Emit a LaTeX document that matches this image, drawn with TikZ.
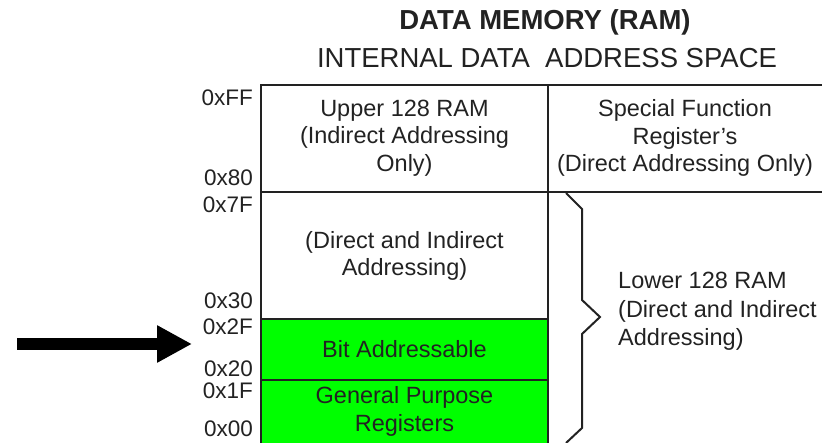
\documentclass[tikz,border=0pt]{standalone}
\usepackage{fontspec}
\setmainfont{Liberation Sans}
\usetikzlibrary{arrows.meta}
\definecolor{ramgreen}{HTML}{00FF00}
\definecolor{ink}{HTML}{222222}
\tikzset{
  cellline/.style={draw=ink, line width=2pt},
  celltxt/.style={text=ink, align=center, inner sep=0pt, font=\fontsize{23.5}{27.5}\selectfont},
  addrtxt/.style={text=ink, anchor=east, inner sep=0pt, font=\fontsize{22.5}{24}\selectfont},
  titletxt/.style={text=ink, inner sep=0pt, font=\fontsize{27.5}{33}\selectfont},
  bigarrow/.style={draw=black, line width=12pt, -{Triangle[length=35pt,width=35pt]}}
}
\begin{document}
\begin{tikzpicture}[x=1pt,y=-1pt]
\useasboundingbox (0,0) rectangle (822,443);
% green fill
\fill[ramgreen] (261,319) rectangle (548,443);
% lines
\draw[cellline] (261,443) -- (261,85) -- (822,85);
\draw[cellline] (548,85) -- (548,443);
\draw[cellline] (261,192) -- (822,192);
\draw[cellline] (261,319) -- (548,319);
\draw[cellline] (261,380) -- (548,380);
% brace
\draw[draw=ink, line width=2pt, line join=miter] (566,193) -- (582,209) -- (582,300) -- (600,317) -- (582,334) -- (582,428) -- (566,443);
% titles
\node[titletxt, font=\bfseries\fontsize{27.5}{33}\selectfont] (t1) at (545,22) {DATA MEMORY (RAM)};
\node[titletxt] (t2) at (547,58) {INTERNAL DATA~~ADDRESS SPACE};
% cell texts
\node[celltxt] (upper) at (404.5,138) {Upper 128 RAM\\(Indirect Addressing\\Only)};
\node[celltxt] (sfr) at (685,138) {Special Function\\Register's\\(Direct Addressing Only)};
\node[celltxt] (mid) at (404.5,256) {(Direct and Indirect\\Addressing)};
\node[celltxt] (bit) at (404.5,349.5) {Bit Addressable};
\node[celltxt] (gpr) at (404.5,411.5) {General Purpose\\Registers};
\node[celltxt, align=left, anchor=west, font=\fontsize{23.5}{28.5}\selectfont] (lower) at (618,311.5) {Lower 128 RAM\\(Direct and Indirect\\Addressing)};
% address labels
\node[addrtxt] (aFF) at (253,98) {0xFF};
\node[addrtxt] (a80) at (253,178) {0x80};
\node[addrtxt] (a7F) at (253,205) {0x7F};
\node[addrtxt] (a30) at (253,301) {0x30};
\node[addrtxt] (a2F) at (253,327) {0x2F};
\node[addrtxt] (a20) at (253,369) {0x20};
\node[addrtxt] (a1F) at (253,391) {0x1F};
\node[addrtxt] (a00) at (253,429) {0x00};
% arrow
\coordinate (arrS) at (17,344);
\coordinate (arrE) at (192,344);
\draw[bigarrow] (arrS) -- (arrE);
\end{tikzpicture}
\end{document}
